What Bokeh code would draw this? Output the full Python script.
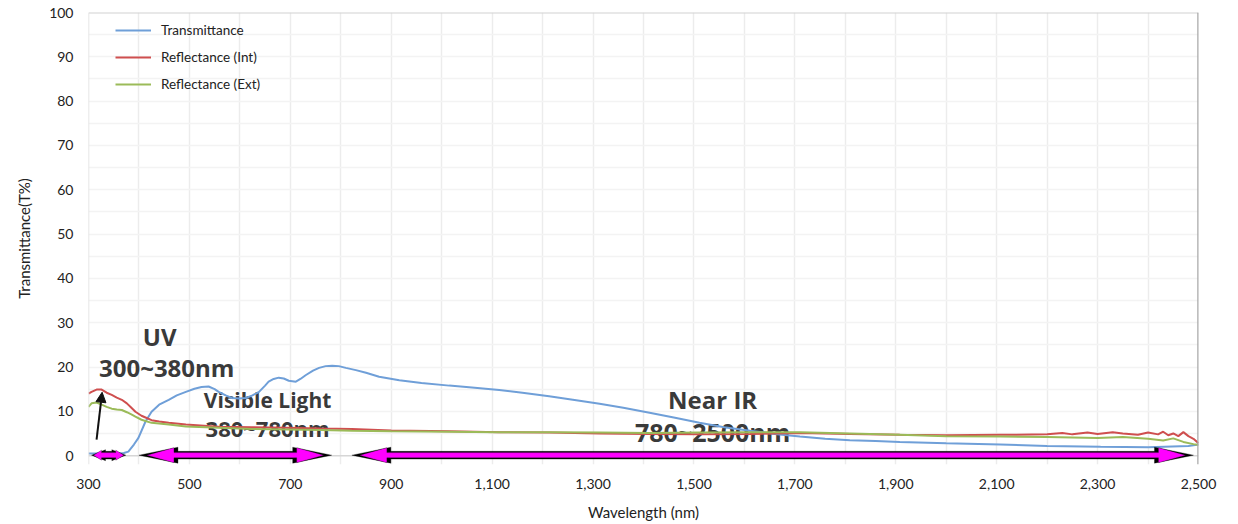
from bokeh.plotting import figure
from bokeh.models import (FixedTicker, NumeralTickFormatter, Legend, LegendItem,
                          Arrow, NormalHead, Range1d, PolyAnnotation, Span)
from bokeh.core.properties import value
from bokeh.embed import file_html
from bokeh.resources import INLINE

# ---------------- data ----------------
wl_T = [300, 340, 370, 379, 390, 399, 413, 425, 440, 459, 475, 493, 510, 524, 538, 550,
        558, 572, 584, 598, 612, 625, 638, 650, 657, 667, 677, 687, 697, 711, 720, 731,
        745, 757, 770, 783, 796, 810, 830, 850, 876, 916, 960, 1015, 1060, 1114, 1160,
        1213, 1260, 1313, 1360, 1412, 1460, 1511, 1560, 1611, 1660, 1710, 1760, 1809,
        1860, 1908, 2000, 2107, 2200, 2306, 2400, 2480, 2500]
transmittance = [0.5, 0.5, 0.6, 0.9, 2.5, 4.0, 7.7, 9.9, 11.5, 12.6, 13.6, 14.4, 15.1, 15.5,
                 15.6, 15.0, 14.4, 13.6, 13.0, 12.9, 13.0, 13.6, 14.4, 15.8, 16.7, 17.3,
                 17.6, 17.4, 16.9, 16.7, 17.3, 18.2, 19.2, 19.8, 20.2, 20.3, 20.2, 19.8,
                 19.3, 18.7, 17.8, 17.0, 16.4, 15.8, 15.4, 14.8, 14.2, 13.4, 12.6, 11.7,
                 10.8, 9.7, 8.6, 7.4, 6.4, 5.6, 4.9, 4.3, 3.8, 3.5, 3.3, 3.1, 2.8, 2.5,
                 2.2, 2.0, 1.9, 2.2, 2.5]

wl_R = [300, 306, 316, 326, 336, 346, 356, 366, 376, 385, 393, 405, 413, 425, 440, 459, 493,
        558, 624, 691, 760, 822, 900, 1015, 1114, 1213, 1313, 1412, 1511, 1611, 1710,
        1809, 1908, 2000, 2107, 2200, 2230, 2250, 2280, 2300, 2330, 2350, 2380, 2400,
        2420, 2430, 2440, 2450, 2460, 2470, 2480, 2490, 2500]
refl_int = [14.0, 14.4, 14.9, 14.9, 14.2, 13.7, 13.1, 12.6, 11.8, 10.8, 9.9, 9.0, 8.6, 8.0,
            7.7, 7.4, 7.0, 6.5, 6.4, 6.3, 6.1, 6.0, 5.7, 5.5, 5.3, 5.2, 5.0, 4.9, 4.8, 4.9,
            5.1, 4.9, 4.7, 4.6, 4.7, 4.8, 5.1, 4.8, 5.2, 4.9, 5.3, 5.0, 4.7, 5.2, 4.8, 5.4,
            4.6, 5.0, 4.4, 5.3, 4.4, 3.8, 2.8]

wl_G = [300, 306, 316, 326, 336, 346, 356, 366, 376, 385, 393, 405, 425, 459, 493, 558, 624,
        691, 760, 822, 900, 1015, 1114, 1213, 1313, 1412, 1511, 1611, 1710, 1809, 1908,
        2000, 2107, 2200, 2300, 2350, 2400, 2430, 2450, 2470, 2490, 2500]
refl_ext = [11.0, 11.8, 12.0, 11.5, 11.0, 10.6, 10.4, 10.3, 9.8, 9.3, 8.8, 8.1, 7.4, 7.0,
            6.6, 6.3, 6.0, 5.9, 5.8, 5.6, 5.5, 5.4, 5.3, 5.3, 5.2, 5.1, 5.2, 5.3, 5.3, 5.0,
            4.7, 4.4, 4.3, 4.2, 4.0, 4.2, 3.8, 3.4, 3.9, 3.1, 2.6, 2.4]

series_names = ["Transmittance", "Reflectance (Int)", "Reflectance (Ext)"]
x_ticks = [300, 500, 700, 900, 1100, 1300, 1500, 1700, 1900, 2100, 2300, 2500]
y_ticks = [0, 10, 20, 30, 40, 50, 60, 70, 80, 90, 100]

# band annotations: (label, range text, label x, label y, range y)
band_labels = [("UV", "300~380nm", 441, 26.8, 19.8),
               ("Visible Light", "380~780nm", 655, 12.6, 6.2),
               ("Near IR", "780~2500nm", 1537, 12.6, 5.3)]
range_label_x = [455, 655, 1537]
name_sizes = ["24px", "21px", "24px"]
range_sizes = ["24px", "22px", "25px"]
# double arrows along the wavelength axis: (start, end, head length px, head half-height px)
band_arrows = [(306, 374, 8, 5.0), (400, 782, 27, 7.5), (822, 2490, 27, 7.5)]

# ---------------- figure ----------------
FONT = "Lato"
X0, X1, Y0, Y1 = 300, 2500, -2.0, 100
FRAME_W = 1110
PX_PER_UNIT = 444 / 100.0
FRAME_H = int(round((Y1 - Y0) * PX_PER_UNIT))
p = figure(width=88 + FRAME_W + 30, height=12 + FRAME_H + 58, output_backend="svg",
           toolbar_location=None, x_range=Range1d(X0, X1), y_range=Range1d(Y0, Y1),
           min_border_left=88, min_border_right=30, min_border_top=12, min_border_bottom=58)
p.background_fill_color = "white"
p.border_fill_color = "white"
p.outline_line_color = None

p.xaxis.ticker = FixedTicker(ticks=x_ticks)
p.xaxis.formatter = NumeralTickFormatter(format="0,0")
p.yaxis.ticker = FixedTicker(ticks=y_ticks)
p.xgrid.ticker = FixedTicker(ticks=list(range(400, 2500, 100)))
p.ygrid.ticker = FixedTicker(ticks=list(range(5, 100, 5)))
p.xgrid.grid_line_color = "#ececec"
p.ygrid.grid_line_color = "#f3f3f3"
p.xgrid.grid_line_width = 1.5
p.ygrid.grid_line_width = 1.5

# plot-area border
p.add_layout(Span(location=0, dimension="width", line_color="#d6d6d6", line_width=1.5))
p.add_layout(Span(location=100, dimension="width", line_color="#d2d2d2", line_width=2))
p.add_layout(Span(location=300, dimension="height", line_color="#dedede", line_width=1.5))
p.add_layout(Span(location=2500, dimension="height", line_color="#a9a9a9", line_width=2.5))

for ax in (p.xaxis, p.yaxis):
    ax.axis_line_color = None
    ax.major_tick_line_color = None
    ax.minor_tick_line_color = None
    ax.major_label_text_font = FONT
    ax.major_label_text_font_size = "14px"
    ax.major_label_text_color = "#222222"
    ax.axis_label_text_font = FONT
    ax.axis_label_text_font_size = "15px"
    ax.axis_label_text_font_style = "normal"
    ax.axis_label_text_color = "#222222"
p.xaxis.axis_label = "Wavelength (nm)"
p.yaxis.axis_label = "Transmittance(T%)"
p.xaxis.major_label_standoff = 8
p.yaxis.major_label_standoff = 9
p.xaxis.axis_label_standoff = 11
p.yaxis.axis_label_standoff = 13

# band labels (drawn under the curves)
p.text(x=[b[2] for b in band_labels], y=[b[3] for b in band_labels],
       text=[b[0] for b in band_labels], text_font=value("Open Sans"),
       text_font_style="bold", text_font_size=name_sizes, text_color="#3a3a3a",
       text_align="center", text_baseline="middle")
p.text(x=range_label_x, y=[b[4] for b in band_labels],
       text=[b[1] for b in band_labels], text_font=value("Open Sans"),
       text_font_style="bold", text_font_size=range_sizes, text_color="#3a3a3a",
       text_align="center", text_baseline="middle")

colors = ["#6f9fd8", "#cf4f4f", "#9bbb59"]
rT = p.line(wl_T, transmittance, line_color=colors[0], line_width=2)
rR = p.line(wl_R, refl_int, line_color=colors[1], line_width=2)
rG = p.line(wl_G, refl_ext, line_color=colors[2], line_width=2)

legend = Legend(items=[LegendItem(label=series_names[0], renderers=[rT]),
                       LegendItem(label=series_names[1], renderers=[rR]),
                       LegendItem(label=series_names[2], renderers=[rG])],
                location=(27, 370), margin=0, padding=8, spacing=7,
                glyph_width=36, glyph_height=20, label_height=20, label_standoff=10,
                label_text_font=FONT, label_text_font_size="13.5px",
                label_text_color="#222222", border_line_color=None,
                background_fill_alpha=0)
p.add_layout(legend, "center")

# magenta double arrows built as polygons (pixel sizes converted to data units)
dx = (X1 - X0) / FRAME_W
dy = 1.0 / PX_PER_UNIT
yc = 0.1
for (a, b, L, H) in band_arrows:
    h = 2.6
    tip = 8 if L > 10 else 2
    BL, BH, Bh = L + tip + 4, H + 0.5, h + 1.3
    bx = [a, a + BL * dx, a + BL * dx, b - BL * dx, b - BL * dx, b,
          b - BL * dx, b - BL * dx, a + BL * dx, a + BL * dx]
    by = [yc, yc + BH * dy, yc + Bh * dy, yc + Bh * dy, yc + BH * dy, yc,
          yc - BH * dy, yc - Bh * dy, yc - Bh * dy, yc - BH * dy]
    p.add_layout(PolyAnnotation(xs=bx, ys=by, fill_color="black", fill_alpha=1,
                                line_color="black", line_width=1))
    a2, b2 = a + tip * dx, b - tip * dx
    mx = [a2, a2 + L * dx, a2 + L * dx, b2 - L * dx, b2 - L * dx, b2,
          b2 - L * dx, b2 - L * dx, a2 + L * dx, a2 + L * dx]
    my = [yc, yc + H * dy, yc + h * dy, yc + h * dy, yc + H * dy, yc,
          yc - H * dy, yc - h * dy, yc - h * dy, yc - H * dy]
    p.add_layout(PolyAnnotation(xs=mx, ys=my, fill_color="#ff00ff", fill_alpha=1,
                                line_color="#202020", line_width=1))

# thin black pointer from UV bar up to the UV label
p.add_layout(Arrow(x_start=316, y_start=3.6, x_end=327, y_end=14.3, line_color="#111111",
                   line_width=2,
                   end=NormalHead(size=10, fill_color="#111111", line_color="#111111")))

open("out.html", "w").write(file_html(p, INLINE))
